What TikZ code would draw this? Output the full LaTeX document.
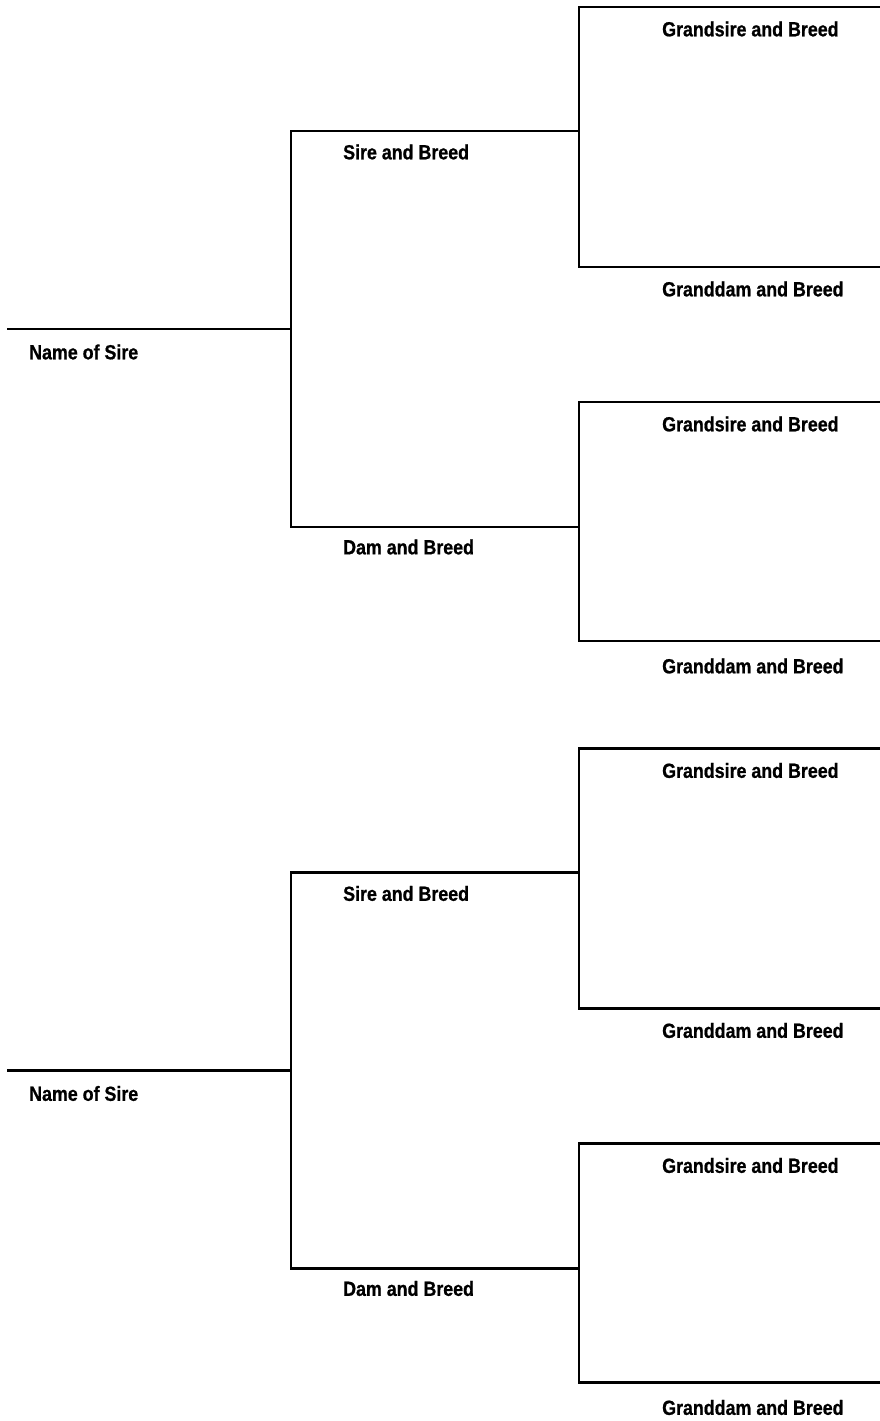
\documentclass[tikz,border=0pt]{standalone}
\usepackage{fontspec}
\setmainfont{Liberation Sans}[FakeStretch=0.87, BoldFeatures={FakeBold=0.8}]
\begin{document}
\begin{tikzpicture}[x=1pt,y=-1pt,
  wire/.style={line width=2.9pt, line cap=rect, line join=miter},
  lbl/.style={anchor=west, inner sep=0pt, font=\fontsize{20.5}{24}\selectfont\bfseries}]
\useasboundingbox[fill=white] (0,0) rectangle (880,1421);
\foreach \dy/\k in {0/a, 741.5/b} {
  \begin{scope}[yshift=-\dy pt]
    % coordinates
    \coordinate (\k-n0) at (8,329);
    \coordinate (\k-n1) at (291,329);
    \coordinate (\k-s0) at (291,131);
    \coordinate (\k-s1) at (579,131);
    \coordinate (\k-d0) at (291,527);
    \coordinate (\k-d1) at (579,527);
    \coordinate (\k-g1t) at (579,7);
    \coordinate (\k-g1te) at (882,7);
    \coordinate (\k-g1b) at (579,267);
    \coordinate (\k-g1be) at (882,267);
    \coordinate (\k-g2t) at (579,402);
    \coordinate (\k-g2te) at (882,402);
    \coordinate (\k-g2b) at (579,641);
    \coordinate (\k-g2be) at (882,641);
    % lines
    \draw[wire] (\k-n0) -- (\k-n1);
    \draw[wire] (\k-s1) -- (\k-s0) -- (\k-d0) -- (\k-d1);
    \draw[wire] (\k-g1te) -- (\k-g1t) -- (\k-g1b) -- (\k-g1be);
    \draw[wire] (\k-g2te) -- (\k-g2t) -- (\k-g2b) -- (\k-g2be);
    % labels
    \node[lbl] (\k-name) at (29,352) {Name of Sire};
    \node[lbl] (\k-sire) at (343,152) {Sire and Breed};
    \node[lbl] (\k-dam) at (343,547) {Dam and Breed};
    \node[lbl] (\k-gs1) at (662,29) {Grandsire and Breed};
    \node[lbl] (\k-gd1) at (662,289) {Granddam and Breed};
    \node[lbl] (\k-gs2) at (662,424) {Grandsire and Breed};
    \node[lbl] (\k-gd2) at (662,666) {Granddam and Breed};
  \end{scope}
}
\end{tikzpicture}
\end{document}
